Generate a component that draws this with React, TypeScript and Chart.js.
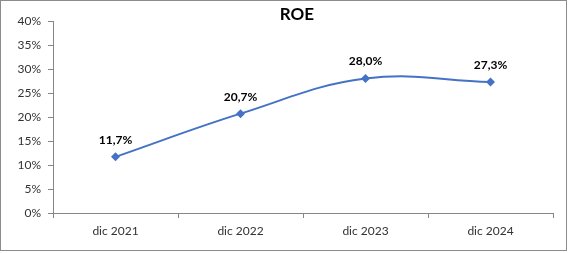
import React, { useEffect, useRef } from "react";
import { Chart, registerables } from "chart.js";

Chart.register(...registerables);

const categories = ["dic 2021", "dic 2022", "dic 2023", "dic 2024"];
const roeValues = [0.117, 0.207, 0.28, 0.273];
const roeLabels = ["11,7%", "20,7%", "28,0%", "27,3%"];
const chartTitle = "ROE";

const FONT = "Lato, 'Open Sans', sans-serif";

export default function App() {
  const ref = useRef<HTMLCanvasElement | null>(null);
  useEffect(() => {
    document.body.style.margin = "0";
    const canvas = ref.current!;
    const extras = {
      id: "extras",
      afterDraw(chart: any) {
        const ctx = chart.ctx;
        ctx.save();
        ctx.strokeStyle = "#8c8c8c";
        ctx.lineWidth = 1;
        ctx.strokeRect(0.5, 0.5, 566, 250);
        ctx.fillStyle = "#000";
        ctx.font = `bold 17px ${FONT}`;
        ctx.textAlign = "center";
        ctx.textBaseline = "middle";
        ctx.fillText(chartTitle, 297, 15);
        const meta = chart.getDatasetMeta(0);
        ctx.font = `bold 12px ${FONT}`;
        meta.data.forEach((pt: any, i: number) => {
          ctx.fillText(roeLabels[i], pt.x, pt.y - 17);
        });
        ctx.restore();
      },
    };
    const chart = new Chart(canvas, {
      type: "line",
      data: {
        labels: categories,
        datasets: [
          {
            data: roeValues,
            borderColor: "#4472C4",
            backgroundColor: "#4472C4",
            borderWidth: 2,
            tension: 0.4,
            pointStyle: "rectRot",
            pointRadius: 4.5,
            pointBorderWidth: 0,
          },
        ],
      },
      options: {
        animation: false,
        responsive: false,
        layout: { padding: { top: 21, right: 17, bottom: 0, left: 0 } },
        plugins: { legend: { display: false }, tooltip: { enabled: false }, title: { display: false } },
        scales: {
          x: {
            offset: true,
            grid: { offset: true, drawOnChartArea: false, drawTicks: true, tickLength: 5, color: "#868686" },
            border: { color: "#868686" },
            ticks: { color: "#333", font: { family: FONT, size: 12 }, padding: 6, maxRotation: 0 },
            afterFit: (s: any) => { s.height = 40; },
          },
          y: {
            min: 0,
            max: 0.4,
            grid: { drawOnChartArea: false, drawTicks: true, tickLength: 5, color: "#868686" },
            border: { color: "#868686" },
            ticks: {
              stepSize: 0.05,
              color: "#333",
              font: { family: FONT, size: 12 },
              padding: 7,
              callback: (v: any) => `${Math.round(Number(v) * 100)}%`,
            },
            afterFit: (s: any) => { s.width = 53; },
          },
        },
      },
      plugins: [extras],
    });
    return () => chart.destroy();
  }, []);
  return <canvas ref={ref} width={570} height={253} style={{ display: "block" }} />;
}
